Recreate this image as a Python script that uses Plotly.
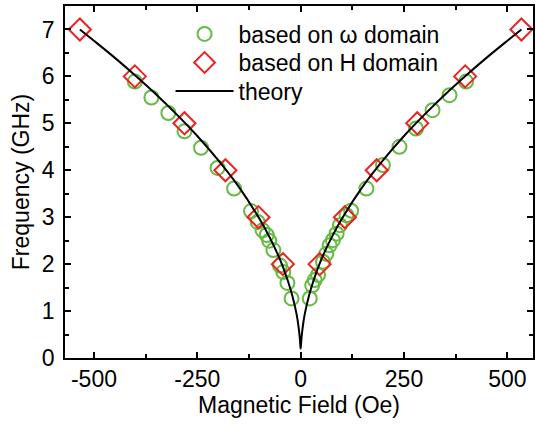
import plotly.graph_objects as go

# Green circles: based on omega domain
omega_H = [-401, -361, -320, -281, -241, -201, -161, -120, -104, -92, -82, -76, -66, -50, -42, -32, -22,
           22, 28, 34, 42, 54, 62, 70, 78, 87, 95, 111, 122, 159, 199, 239, 279, 319, 360, 400]
omega_f = [5.89, 5.55, 5.22, 4.83, 4.48, 4.05, 3.61, 3.13, 2.90, 2.72, 2.62, 2.50, 2.30, 1.97, 1.83, 1.60, 1.27,
           1.27, 1.55, 1.66, 1.77, 2.05, 2.22, 2.40, 2.51, 2.65, 2.83, 3.04, 3.14, 3.61, 4.11, 4.50, 4.89, 5.28, 5.60, 5.89]

# Red diamonds: based on H domain
hdom_H = [-534, -401, -281, -182, -102, -43, 46, 107, 184, 282, 398, 534]
hdom_f = [7, 6, 5, 4, 3, 2, 2, 3, 4, 5, 6, 7]

# Theory curve
theory_H = [-534, -500, -450, -400, -350, -300, -250, -200, -150, -100, -75, -50, -30, -20, -10, -5, -2, -1, 0,
            1, 2, 5, 10, 20, 30, 50, 75, 100, 150, 200, 250, 300, 350, 400, 450, 500, 534]
theory_f = [7.00, 6.76, 6.40, 6.02, 5.62, 5.19, 4.73, 4.22, 3.65, 2.97, 2.57, 2.10, 1.62, 1.32, 0.94, 0.66, 0.42, 0.30, 0.20,
            0.30, 0.42, 0.66, 0.94, 1.32, 1.62, 2.10, 2.57, 2.97, 3.65, 4.22, 4.73, 5.19, 5.62, 6.02, 6.40, 6.76, 7.00]

x_ticks = [-500, -250, 0, 250, 500]
y_ticks = [0, 1, 2, 3, 4, 5, 6, 7]

FONT = "Liberation Sans, Arial, sans-serif"
FS = 23

fig = go.Figure()
fig.add_trace(go.Scatter(
    x=omega_H, y=omega_f, mode="markers", name="based on \u03c9 domain", legend="legend",
    marker=dict(symbol="circle-open", size=14, color="#66bb44", line=dict(width=2, color="#66bb44")),
))
fig.add_trace(go.Scatter(
    x=hdom_H, y=hdom_f, mode="markers", name="based on H domain", legend="legend2",
    marker=dict(symbol="diamond-open", size=17, color="#ee2222", line=dict(width=2, color="#ee2222")),
))
fig.add_trace(go.Scatter(
    x=theory_H, y=theory_f, mode="lines", name="theory", legend="legend3",
    line=dict(color="black", width=2), line_shape="spline",
))

axis_common = dict(
    showline=True, linecolor="black", linewidth=1.5, mirror="allticks",
    ticks="inside", ticklen=6, tickwidth=1.5, tickcolor="black",
    showgrid=False, zeroline=False,
    tickfont=dict(family=FONT, size=FS, color="black"),
    title_font=dict(family=FONT, size=FS, color="black"),
)

def leg(y):
    return dict(x=(171 - 65) / 470, y=y, xanchor="left", yanchor="middle", bgcolor="rgba(0,0,0,0)",
                itemwidth=58, font=dict(family=FONT, size=FS, color="black"))

fig.update_layout(
    width=536, height=424,
    margin=dict(l=65, r=1, t=6, b=66),
    paper_bgcolor="white", plot_bgcolor="white",
    font=dict(family=FONT, color="black"),
    xaxis=dict(range=[-570, 562], tickvals=x_ticks, ticktext=[str(v) for v in x_ticks],
               minor=dict(ticks="inside", ticklen=4, tickwidth=1.5, tickcolor="black", tickvals=[-375, -125, 125, 375]),
               title=dict(text="Magnetic Field (Oe)", standoff=4), ticklabelstandoff=0, **axis_common),
    yaxis=dict(range=[0, 7.5], tickvals=y_ticks,
               minor=dict(ticks="inside", ticklen=4, tickwidth=1.5, tickcolor="black",
                          tickvals=[0.5, 1.5, 2.5, 3.5, 4.5, 5.5, 6.5]),
               title=dict(text="Frequency (GHz)", standoff=6), ticklabelstandoff=4, **axis_common),
    legend=leg((358 - 34) / 352),
    legend2=leg((358 - 62.5) / 352),
    legend3=leg((358 - 91) / 352),
    showlegend=True,
)

fig.write_html("out.html")
